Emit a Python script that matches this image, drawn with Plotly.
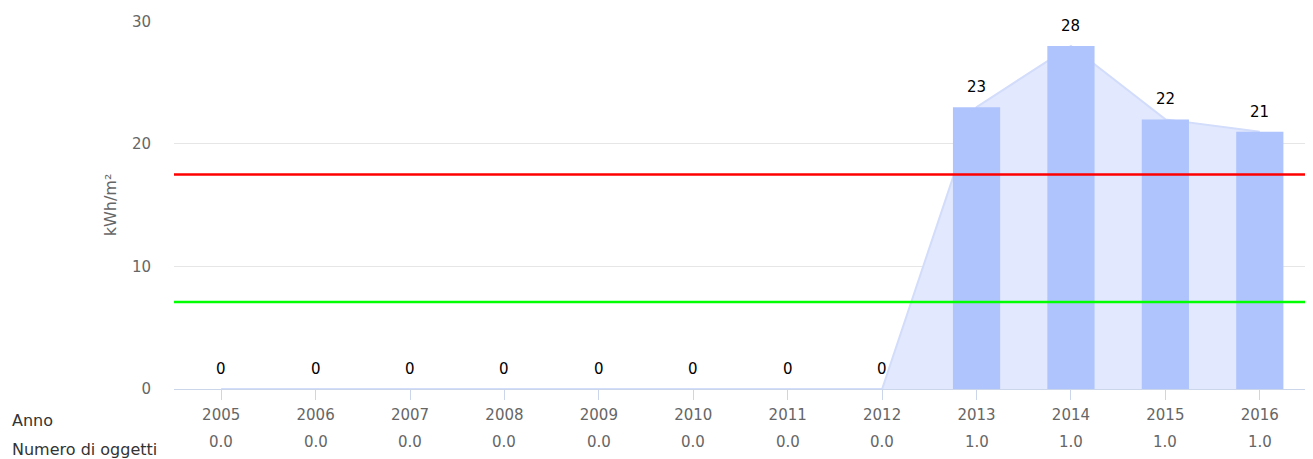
import plotly.graph_objects as go

years = ["2005", "2006", "2007", "2008", "2009", "2010", "2011", "2012", "2013", "2014", "2015", "2016"]
values = [0, 0, 0, 0, 0, 0, 0, 0, 23, 28, 22, 21]
area_values = [0, 0, 0, 0, 0, 0, 0, 0, 23, 28, 22, 21]
num_objects = ["0.0", "0.0", "0.0", "0.0", "0.0", "0.0", "0.0", "0.0", "1.0", "1.0", "1.0", "1.0"]
red_threshold = 17.5
green_threshold = 7.1
y_ticks = [0, 10, 20, 30]

FONT = "DejaVu Sans"
fig = go.Figure()

# area (behind)
fig.add_trace(go.Scatter(
    x=years, y=area_values, mode="lines", fill="tozeroy",
    fillcolor="rgba(226,232,253,1)", line=dict(color="rgba(210,220,251,1)", width=2),
    hoverinfo="skip", showlegend=False, xaxis="x", yaxis="y",
))
# bars (on overlaying axes so they sit above the area)
fig.add_trace(go.Bar(
    x=years, y=values, width=0.5, marker=dict(color="#afc4fc", line=dict(width=0)),
    showlegend=False, xaxis="x2", yaxis="y2",
))

for t, c in [(red_threshold, "#ff0000"), (green_threshold, "#00ff00")]:
    fig.add_shape(type="line", xref="paper", yref="y", x0=0, x1=1, y0=t, y1=t,
                  line=dict(color=c, width=2.5), layer="above")

annotations = []
for i, v in enumerate(values):
    annotations.append(dict(x=i, y=v, xref="x", yref="y", text=str(v), showarrow=False,
                            yshift=20, font=dict(family=FONT, size=15, color="#000000")))
for i, n in enumerate(num_objects):
    annotations.append(dict(x=i, y=0, xref="x", yref="paper", text=n, showarrow=False,
                            yshift=-53, yanchor="middle", font=dict(family=FONT, size=15, color="#666666")))
annotations.append(dict(x=0, xref="paper", xshift=-164, xanchor="left", y=0, yref="paper",
                        yshift=-31, yanchor="middle", text="Anno", showarrow=False,
                        font=dict(family=FONT, size=16, color="#333333")))
annotations.append(dict(x=0, xref="paper", xshift=-164, xanchor="left", y=0, yref="paper",
                        yshift=-60, yanchor="middle", text="Numero di oggetti", showarrow=False,
                        font=dict(family=FONT, size=16, color="#333333")))

fig.update_layout(
    width=1305, height=451,
    margin=dict(l=166, r=6, t=13, b=70),
    plot_bgcolor="white", paper_bgcolor="white",
    font=dict(family=FONT, size=15, color="#666666"),
    annotations=annotations,
    xaxis=dict(type="category", showgrid=False, showline=True, linecolor="#ccd6eb", linewidth=1,
               ticks="outside", ticklen=10, tickcolor="#ccd6eb", tickfont=dict(size=15, color="#666666"),
               ticklabelstandoff=2, range=[-0.5, 11.5]),
    xaxis2=dict(type="category", overlaying="x", matches="x", visible=False, range=[-0.5, 11.5]),
    yaxis=dict(range=[0, 30.03], tickvals=y_ticks, showgrid=True, gridcolor="#e6e6e6", gridwidth=1,
               zeroline=False, showline=False, ticks="", ticklabelstandoff=22,
               tickfont=dict(size=15, color="#666666"),
               title=dict(text="kWh/m²", font=dict(size=16, color="#666666"), standoff=11)),
    yaxis2=dict(overlaying="y", matches="y", visible=False, range=[0, 30.03]),
)

fig.write_html("out.html")
